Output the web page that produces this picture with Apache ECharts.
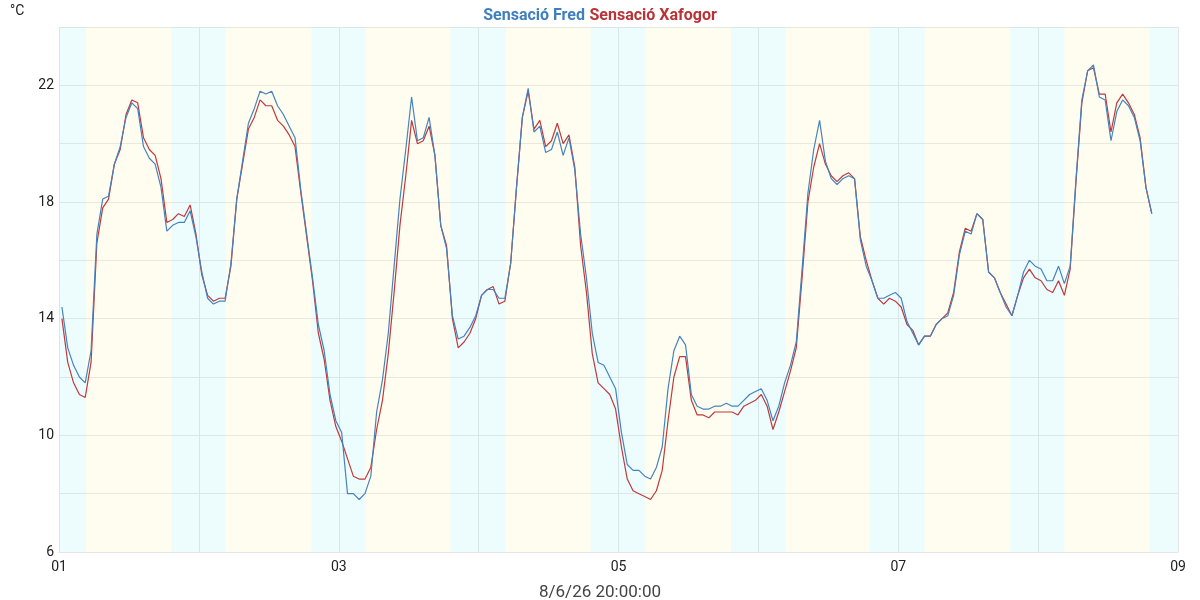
<!DOCTYPE html>
<html>
<head>
<meta charset="UTF-8">
<title>Sensació tèrmica</title>
<script src="https://cdn.jsdelivr.net/npm/echarts@6/dist/echarts.min.js"></script>
<style>
  html, body { margin: 0; padding: 0; background: #fff; }
  #chart { width: 1200px; height: 600px; }
</style>
</head>
<body>
<div id="chart"></div>
<script>
// hourly readings, first one at 01 00:30 (UTC)
var startDay = Date.UTC(2026, 5, 1);
var hour = 3600000;
var day = 24 * hour;

var fred = [
  14.4, 13.0, 12.4, 12.0, 11.8, 12.9, 16.9, 18.1, 18.2, 19.3,
  19.9, 20.9, 21.4, 21.2, 19.9, 19.5, 19.3, 18.5, 17.0, 17.2,
  17.3, 17.3, 17.7, 16.8, 15.6, 14.7, 14.5, 14.6, 14.6, 15.9,
  18.1, 19.4, 20.7, 21.2, 21.8, 21.7, 21.8, 21.3, 21.0, 20.6,
  20.2, 18.4, 16.9, 15.4, 13.8, 12.9, 11.4, 10.5, 10.1, 8.0,
  8.0, 7.8, 8.0, 8.6, 10.8, 11.9, 13.5, 15.8, 18.1, 19.8,
  21.6, 20.1, 20.2, 20.9, 19.6, 17.2, 16.4, 14.1, 13.3, 13.4,
  13.7, 14.1, 14.8, 15.0, 15.0, 14.7, 14.7, 15.9, 18.5, 20.9,
  21.9, 20.4, 20.6, 19.7, 19.8, 20.4, 19.6, 20.2, 19.1, 16.9,
  15.4, 13.5, 12.5, 12.4, 12.0, 11.6, 10.1, 9.0, 8.8, 8.8,
  8.6, 8.5, 8.9, 9.6, 11.6, 12.9, 13.4, 13.1, 11.4, 11.0,
  10.9, 10.9, 11.0, 11.0, 11.1, 11.0, 11.0, 11.2, 11.4, 11.5,
  11.6, 11.2, 10.5, 11.0, 11.8, 12.4, 13.2, 15.7, 18.3, 19.8,
  20.8, 19.4, 18.8, 18.6, 18.8, 18.9, 18.8, 16.7, 15.8, 15.3,
  14.7, 14.7, 14.8, 14.9, 14.7, 13.9, 13.5, 13.1, 13.4, 13.4,
  13.8, 14.0, 14.1, 14.8, 16.2, 17.0, 16.9, 17.6, 17.4, 15.6,
  15.4, 14.9, 14.4, 14.1, 14.8, 15.6, 16.0, 15.8, 15.7, 15.3,
  15.3, 15.8, 15.2, 15.8, 18.8, 21.5, 22.5, 22.7, 21.6, 21.5,
  20.1, 21.1, 21.5, 21.3, 20.9, 20.1, 18.5, 17.6
];

var xafogor = [
  14.0, 12.5, 11.8, 11.4, 11.3, 12.5, 16.6, 17.8, 18.1, 19.3,
  19.8, 21.0, 21.5, 21.4, 20.2, 19.8, 19.6, 18.8, 17.3, 17.4,
  17.6, 17.5, 17.9, 16.9, 15.5, 14.8, 14.6, 14.7, 14.7, 15.8,
  18.1, 19.3, 20.5, 20.9, 21.5, 21.3, 21.3, 20.8, 20.6, 20.3,
  19.9, 18.3, 16.8, 15.3, 13.5, 12.6, 11.2, 10.3, 9.8, 9.2,
  8.6, 8.5, 8.5, 8.9, 10.2, 11.2, 12.8, 14.9, 17.2, 18.9,
  20.8, 20.0, 20.1, 20.6, 19.6, 17.2, 16.5, 14.0, 13.0, 13.2,
  13.5, 14.0, 14.8, 15.0, 15.1, 14.5, 14.6, 15.9, 18.5, 20.9,
  21.8, 20.5, 20.8, 19.9, 20.1, 20.7, 20.0, 20.3, 19.2, 16.5,
  14.9, 12.8, 11.8, 11.6, 11.4, 10.9, 9.6, 8.5, 8.1, 8.0,
  7.9, 7.8, 8.1, 8.8, 10.5, 12.0, 12.7, 12.7, 11.2, 10.7,
  10.7, 10.6, 10.8, 10.8, 10.8, 10.8, 10.7, 11.0, 11.1, 11.2,
  11.4, 11.0, 10.2, 10.8, 11.5, 12.2, 13.0, 15.4, 18.0, 19.2,
  20.0, 19.3, 18.9, 18.7, 18.9, 19.0, 18.8, 16.8, 16.0, 15.3,
  14.7, 14.5, 14.7, 14.6, 14.4, 13.8, 13.6, 13.1, 13.4, 13.4,
  13.8, 14.0, 14.2, 14.9, 16.3, 17.1, 17.0, 17.6, 17.4, 15.6,
  15.4, 14.9, 14.5, 14.1, 14.8, 15.4, 15.7, 15.4, 15.3, 15.0,
  14.9, 15.3, 14.8, 15.7, 18.7, 21.4, 22.5, 22.6, 21.7, 21.7,
  20.4, 21.4, 21.7, 21.4, 21.0, 20.2, 18.5, 17.6
];

// sunrise / sunset per day, in hours of the day
var sunrise = [4.6, 4.6, 4.6, 4.6, 4.6, 4.6, 4.5, 4.5];
var sunset  = [19.3, 19.3, 19.2, 19.2, 19.3, 19.1, 19.2, 19.1];

var yTicks = [6, 10, 14, 18, 22];

function pad(n) { return n < 10 ? '0' + n : '' + n; }

function toPairs(values) {
  return values.map(function (v, i) {
    return [startDay + (i + 0.5) * hour, v];
  });
}

var nightColor = 'rgba(110, 240, 240, 0.12)';
var dayColor = 'rgba(250, 240, 130, 0.12)';

var bands = [];
var prevEnd = startDay;
for (var d = 0; d < sunrise.length; d++) {
  var rise = startDay + d * day + sunrise[d] * hour;
  var set = startDay + d * day + sunset[d] * hour;
  bands.push([{ xAxis: prevEnd, itemStyle: { color: nightColor } }, { xAxis: rise }]);
  bands.push([{ xAxis: rise, itemStyle: { color: dayColor } }, { xAxis: set }]);
  prevEnd = set;
}
bands.push([{ xAxis: prevEnd, itemStyle: { color: nightColor } }, { xAxis: startDay + 8 * day }]);

var chart = echarts.init(document.getElementById('chart'));
chart.setOption({
  animation: false,
  textStyle: { fontFamily: 'Roboto' },
  title: {
    text: '{a|Sensació Fred} {b|Sensació Xafogor}',
    left: 'center',
    top: 2,
    textStyle: {
      rich: {
        a: { color: '#3f7fbf', fontSize: 16, fontWeight: 'bold', fontFamily: 'Roboto' },
        b: { color: '#b83236', fontSize: 16, fontWeight: 'bold', fontFamily: 'Roboto' }
      }
    }
  },
  graphic: [
    {
      type: 'text', left: 10, top: 4,
      style: { text: '°C', fill: '#222', font: '14px Roboto' }
    },
    {
      type: 'text', left: 'center', top: 584,
      style: { text: '8/6/26 20:00:00', fill: '#444', font: '17px Roboto' }
    }
  ],
  grid: { left: 59, right: 22, top: 27, bottom: 48, containLabel: false },
  xAxis: {
    type: 'value',
    min: startDay,
    max: startDay + 8 * day,
    interval: day,
    axisLine: { show: true, lineStyle: { color: '#e6e6e6' } },
    axisTick: { show: false },
    axisLabel: {
      color: '#222', fontSize: 14, margin: 8,
      formatter: function (v) {
        var dd = new Date(v).getUTCDate();
        return dd % 2 === 1 ? pad(dd) : '';
      }
    },
    splitLine: { show: true, lineStyle: { color: '#e6e6e6', width: 1 } }
  },
  yAxis: {
    type: 'value',
    min: 6,
    max: 24,
    interval: 2,
    axisLine: { show: false },
    axisTick: { show: false },
    axisLabel: {
      color: '#222', fontSize: 14, margin: 5,
      formatter: function (v) { return yTicks.indexOf(v) >= 0 ? '' + v : ''; }
    },
    splitLine: { show: true, lineStyle: { color: '#e8e8e8', width: 1 } }
  },
  series: [
    {
      name: 'Sensació Xafogor',
      type: 'line',
      data: toPairs(xafogor),
      showSymbol: false,
      lineStyle: { color: '#c0393d', width: 1.2 },
      itemStyle: { color: '#c0393d' },
      markArea: { silent: true, data: bands }
    },
    {
      name: 'Sensació Fred',
      type: 'line',
      data: toPairs(fred),
      showSymbol: false,
      lineStyle: { color: '#4683bd', width: 1.2 },
      itemStyle: { color: '#4683bd' }
    }
  ]
});
</script>
</body>
</html>
